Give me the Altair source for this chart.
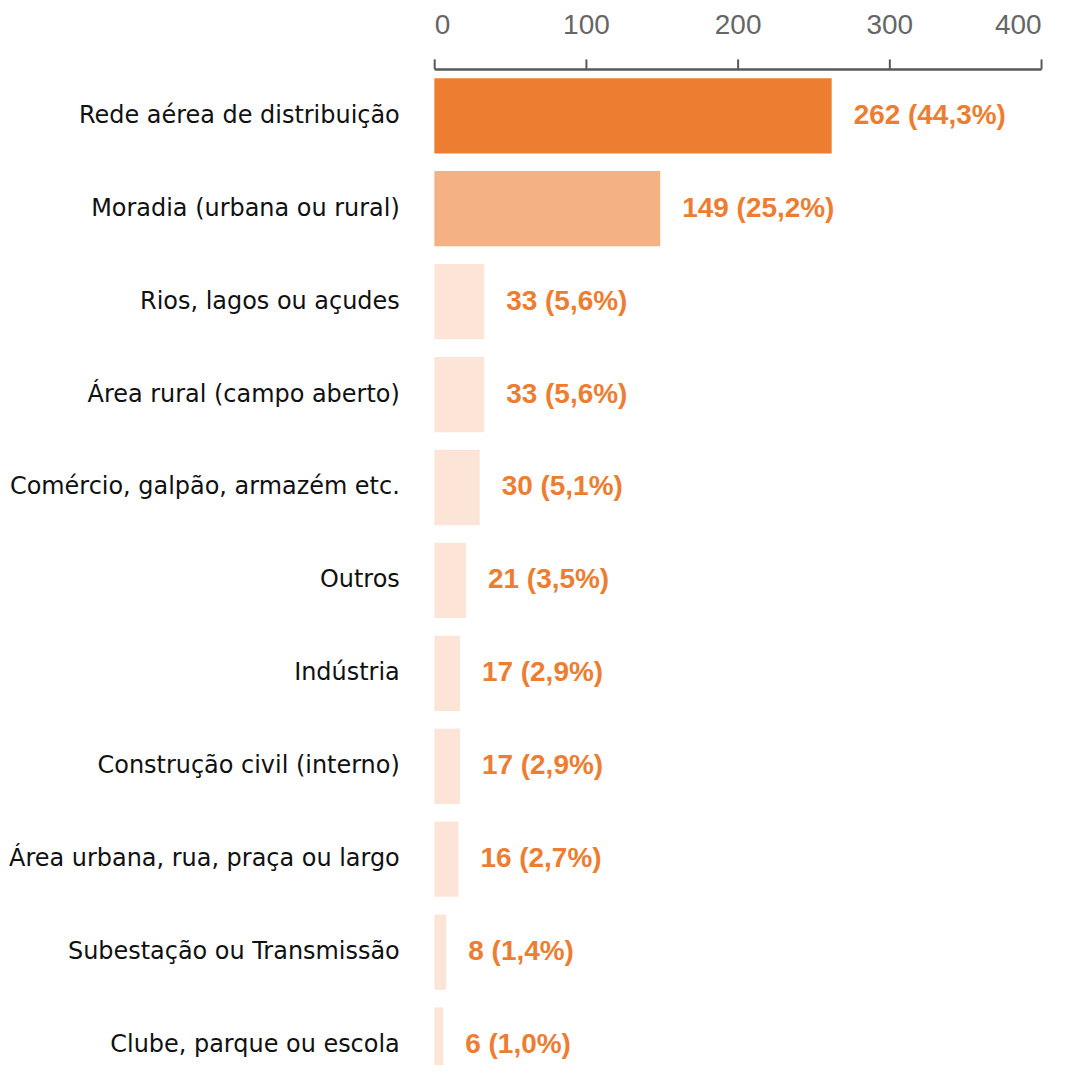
import altair as alt
import pandas as pd

categories = [
    "Rede aérea de distribuição",
    "Moradia (urbana ou rural)",
    "Rios, lagos ou açudes",
    "Área rural (campo aberto)",
    "Comércio, galpão, armazém etc.",
    "Outros",
    "Indústria",
    "Construção civil (interno)",
    "Área urbana, rua, praça ou largo",
    "Subestação ou Transmissão",
    "Clube, parque ou escola",
]
values = [262, 149, 33, 33, 30, 21, 17, 17, 16, 8, 6]
percents = ["44,3%", "25,2%", "5,6%", "5,6%", "5,1%", "3,5%", "2,9%", "2,9%", "2,7%", "1,4%", "1,0%"]
tiers = ["top", "second", "rest", "rest", "rest", "rest", "rest", "rest", "rest", "rest", "rest"]

palette_domain = ["top", "second", "rest"]
palette_range = ["#ED7D31", "#F4B183", "#FCE5D7"]

df = pd.DataFrame({
    "categoria": categories,
    "valor": values,
    "tier": tiers,
    "rotulo": [f"{v} ({p})" for v, p in zip(values, percents)],
})

y_scale = alt.Scale(range=[0, 1025], paddingInner=0.19, paddingOuter=0.1)

y_enc = alt.Y(
    "categoria:N",
    sort=categories,
    title=None,
    scale=y_scale,
    axis=alt.Axis(
        domain=False, ticks=False, labelPadding=35, labelLimit=0,
        labelFont="DejaVu Sans", labelFontSize=24, labelColor="#111111",
    ),
)

bars = alt.Chart(df).mark_bar(clip=True).encode(
    x=alt.X(
        "valor:Q",
        title=None,
        scale=alt.Scale(domain=[0, 400], nice=False),
        axis=alt.Axis(
            orient="top", values=[0, 100, 200, 300, 400], grid=False,
            domainColor="#595959", domainWidth=2.5,
            tickColor="#595959", tickWidth=2, tickSize=10,
            labelColor="#666666", labelFont="Liberation Sans", labelFontSize=28,
            labelPadding=19,
        ),
    ),
    y=y_enc,
    color=alt.Color("tier:N", scale=alt.Scale(domain=palette_domain, range=palette_range), legend=None),
)

labels = alt.Chart(df).mark_text(
    align="left", baseline="middle", dx=22,
    font="Liberation Sans", fontSize=28, fontWeight="bold", color="#ED7D31",
).encode(
    x="valor:Q",
    y=alt.Y("categoria:N", sort=categories),
    text="rotulo:N",
)

chart = (bars + labels).properties(
    width=608,
    height=998,
    background="white",
    autosize=alt.AutoSizeParams(type="none"),
    padding={"left": 427, "top": 60, "right": 22, "bottom": 0},
).configure_view(strokeWidth=0, stroke="transparent")

chart.save("out.html", embed_options={"renderer": "svg", "actions": False})
